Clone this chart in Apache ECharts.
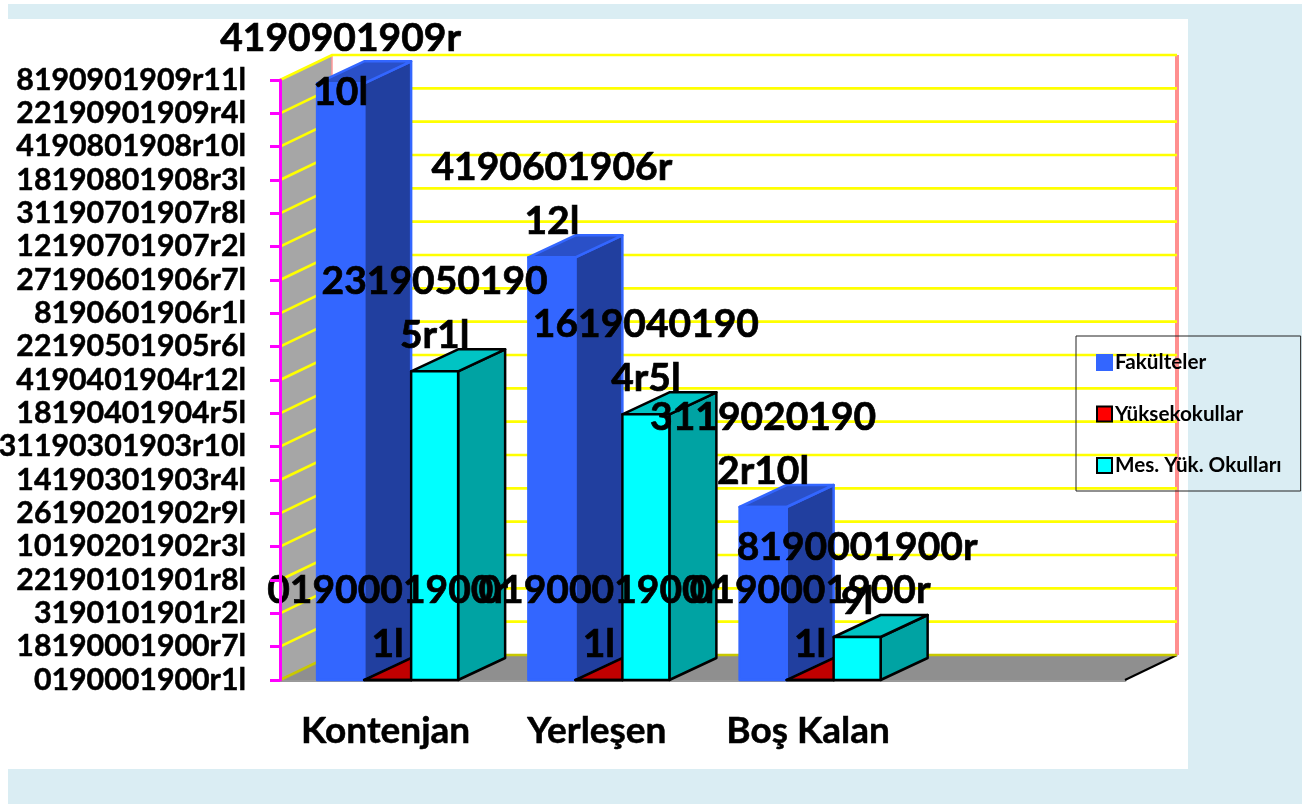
<!DOCTYPE html>
<html>
<head>
<meta charset="utf-8">
<style>
  html, body { margin: 0; padding: 0; background: #fff; }
  #chart { width: 1302px; height: 804px; }
</style>
<script src="https://cdn.jsdelivr.net/npm/echarts@6/dist/echarts.min.js"></script>
</head>
<body>
<div id="chart"></div>
<script>
  var categories = ['Kontenjan', 'Yerleşen', 'Boş Kalan', ''];
  var tickLabels = [
    '0190001900r1l', '18190001900r7l', '3190101901r2l', '22190101901r8l', '10190201902r3l',
    '26190201902r9l', '14190301903r4l', '31190301903r10l', '18190401904r5l', '4190401904r12l',
    '22190501905r6l', '8190601906r1l', '27190601906r7l', '12190701907r2l', '31190701907r8l',
    '18190801908r3l', '4190801908r10l', '22190901909r4l', '8190901909r11l'
  ];
  // values are in tick steps of the axis above
  var fakulteler = [17.9, 12.68, 5.19];
  var yuksekokullar = [0, 0, 0];
  var meslek = [9.26, 7.97, 1.29];
  var fakultelerLabels = ['4190901909r\n10l', '4190601906r\n12l', '3119020190\n2r10l'];
  var yuksekokullarLabels = ['0190001900r\n1l', '0190001900r\n1l', '0190001900r\n1l'];
  var meslekLabels = ['2319050190\n5r1l', '1619040190\n4r5l', '8190001900r\n9l'];

  var FONT = 'Lato, Carlito, "Noto Sans", sans-serif';
  var WALL_DX = 52, WALL_DY = -25;
  var BAR_DX = 47, BAR_DY = -22;

  var charts = echarts.init(document.getElementById('chart'));

  // wall, floor and the frame lines round them
  function renderFrame(params, api) {
    var cs = params.coordSys;
    var x0 = cs.x, x1 = cs.x + cs.width;
    var yBottom = api.coord([0, 0])[1];
    var yTop = api.coord([0, tickLabels.length - 1])[1];
    return {
      type: 'group',
      children: [
        { type: 'polygon', shape: { points: [[x0, yTop], [x0 + WALL_DX, yTop + WALL_DY], [x0 + WALL_DX, yBottom + WALL_DY], [x0, yBottom]] },
          style: { fill: '#a6a6a6' } },
        { type: 'polygon', shape: { points: [[x0, yBottom], [x0 + WALL_DX, yBottom + WALL_DY], [x1 + WALL_DX, yBottom + WALL_DY], [x1, yBottom]] },
          style: { fill: '#8f8f8f' } },
        { type: 'line', shape: { x1: x0 + WALL_DX, y1: yTop + WALL_DY, x2: x0 + WALL_DX, y2: yBottom + WALL_DY },
          style: { stroke: '#ff9999', lineWidth: 1.5 } },
        { type: 'line', shape: { x1: x1 + WALL_DX, y1: yTop + WALL_DY, x2: x1 + WALL_DX, y2: yBottom + WALL_DY },
          style: { stroke: '#ff8f8f', lineWidth: 4 } },
        { type: 'line', shape: { x1: x1, y1: yBottom, x2: x1 + WALL_DX, y2: yBottom + WALL_DY },
          style: { stroke: '#000', lineWidth: 2 } }
      ]
    };
  }

  // yellow gridline bent round the left wall and the back wall
  function renderGridLine(params, api) {
    var cs = params.coordSys;
    var x0 = cs.x, x1 = cs.x + cs.width;
    var y = api.coord([0, api.value(1)])[1];
    return {
      type: 'polyline',
      shape: { points: [[x0, y], [x0 + WALL_DX, y + WALL_DY], [x1 + WALL_DX, y + WALL_DY]] },
      style: { fill: null, stroke: api.value(1) === 0 ? '#c8c800' : '#ffff00', lineWidth: 2.6 }
    };
  }

  function barRenderer(offset, side, top, labels) {
    return function (params, api) {
      var slot = api.size([1, 0])[0];
      var w = slot * 0.2225;
      var base = api.coord([api.value(0), 0]);
      var head = api.coord([api.value(0), api.value(1)]);
      var xl = base[0] + 2 + (offset - 0.5) * w;
      var xr = xl + w;
      var yb = base[1], yt = head[1];
      var st = api.style();
      var edge = { stroke: st.stroke, lineWidth: st.lineWidth, lineJoin: 'round' };
      var labelY = Math.max(yt - 63, 65);
      return {
        type: 'group',
        children: [
          { type: 'polygon', shape: { points: [[xr, yb], [xr + BAR_DX, yb + BAR_DY], [xr + BAR_DX, yt + BAR_DY], [xr, yt]] },
            style: Object.assign({ fill: side }, edge) },
          { type: 'polygon', shape: { points: [[xl, yt], [xr, yt], [xr + BAR_DX, yt + BAR_DY], [xl + BAR_DX, yt + BAR_DY]] },
            style: Object.assign({ fill: top }, edge) },
          { type: 'rect', shape: { x: xl, y: yt, width: w, height: yb - yt },
            style: Object.assign({ fill: st.fill }, edge) },
          { type: 'text', z2: 100,
            style: { x: xl + w / 2, y: labelY, text: labels[params.dataIndex], align: 'center', verticalAlign: 'middle',
              font: 'bold 39px ' + FONT, lineHeight: 54, fill: '#000', stroke: '#000', lineWidth: 0.7 } }
        ]
      };
    };
  }

  function barSeries(name, values, offset, color, side, top, border, labels) {
    return {
      name: name,
      type: 'custom',
      z: 3,
      renderItem: barRenderer(offset, side, top, labels),
      itemStyle: { color: color, borderColor: border, borderWidth: 2.5 },
      data: values.map(function (v, i) { return [i, v]; })
    };
  }

  charts.setOption({
    animation: false,
    graphic: [
      { type: 'rect', z: -10, shape: { x: 8, y: 4, width: 1294, height: 800 }, style: { fill: '#daedf3' } },
      { type: 'rect', z: -9, shape: { x: 8, y: 19, width: 1180, height: 750 }, style: { fill: '#fff' } }
    ],
    grid: { left: 280, top: 80, width: 845, height: 600, outerBoundsMode: 'none' },
    legend: {
      orient: 'vertical',
      left: 1076,
      top: 336,
      z: 6,
      icon: 'rect',
      selectedMode: false,
      data: ['Fakülteler', 'Yüksekokullar', 'Mes. Yük. Okulları'],
      itemWidth: 15,
      itemHeight: 15,
      itemGap: 30.5,
      itemStyle: { borderWidth: 2 },
      padding: [16, 19, 15, 20],
      borderColor: '#222',
      borderWidth: 1,
      textStyle: { fontFamily: FONT, fontWeight: 'bold', fontSize: 20.7, color: '#000', padding: [0, 0, 0, -2] }
    },
    xAxis: {
      type: 'category',
      data: categories,
      axisLine: { lineStyle: { color: '#999', width: 3 } },
      axisTick: { show: true, inside: true, length: 3, lineStyle: { color: '#fff', width: 2 } },
      axisLabel: { interval: 0, margin: 33, color: '#000', fontFamily: FONT, fontWeight: 'bold', fontSize: 37, textBorderColor: '#000', textBorderWidth: 0.5 }
    },
    yAxis: {
      type: 'value',
      z: 5,
      min: 0,
      max: tickLabels.length - 1,
      interval: 1,
      axisLine: { show: true, lineStyle: { color: '#ff00ff', width: 3 } },
      axisTick: { show: true, length: 10, lineStyle: { color: '#ff00ff', width: 3 } },
      axisLabel: {
        margin: 34,
        color: '#000',
        fontFamily: FONT,
        fontWeight: 'bold',
        fontSize: 30.3,
        textBorderColor: '#000',
        textBorderWidth: 0.5,
        padding: [3, 0, 0, 0],
        formatter: function (v) { return tickLabels[v]; }
      },
      splitLine: { show: false }
    },
    series: [
      { type: 'custom', silent: true, z: 1, renderItem: renderFrame, data: [[0, 0]] },
      { type: 'custom', silent: true, z: 2, renderItem: renderGridLine, data: tickLabels.map(function (t, i) { return [0, i]; }) },
      barSeries('Fakülteler', fakulteler, -1, '#3366ff', '#213f9f', '#2a50c8', '#3366ff', fakultelerLabels),
      barSeries('Yüksekokullar', yuksekokullar, 0, '#ff0000', '#800000', '#c00000', '#000', yuksekokullarLabels),
      barSeries('Mes. Yük. Okulları', meslek, 1, '#00ffff', '#00a3a3', '#00c4c4', '#000', meslekLabels)
    ]
  });
</script>
</body>
</html>
